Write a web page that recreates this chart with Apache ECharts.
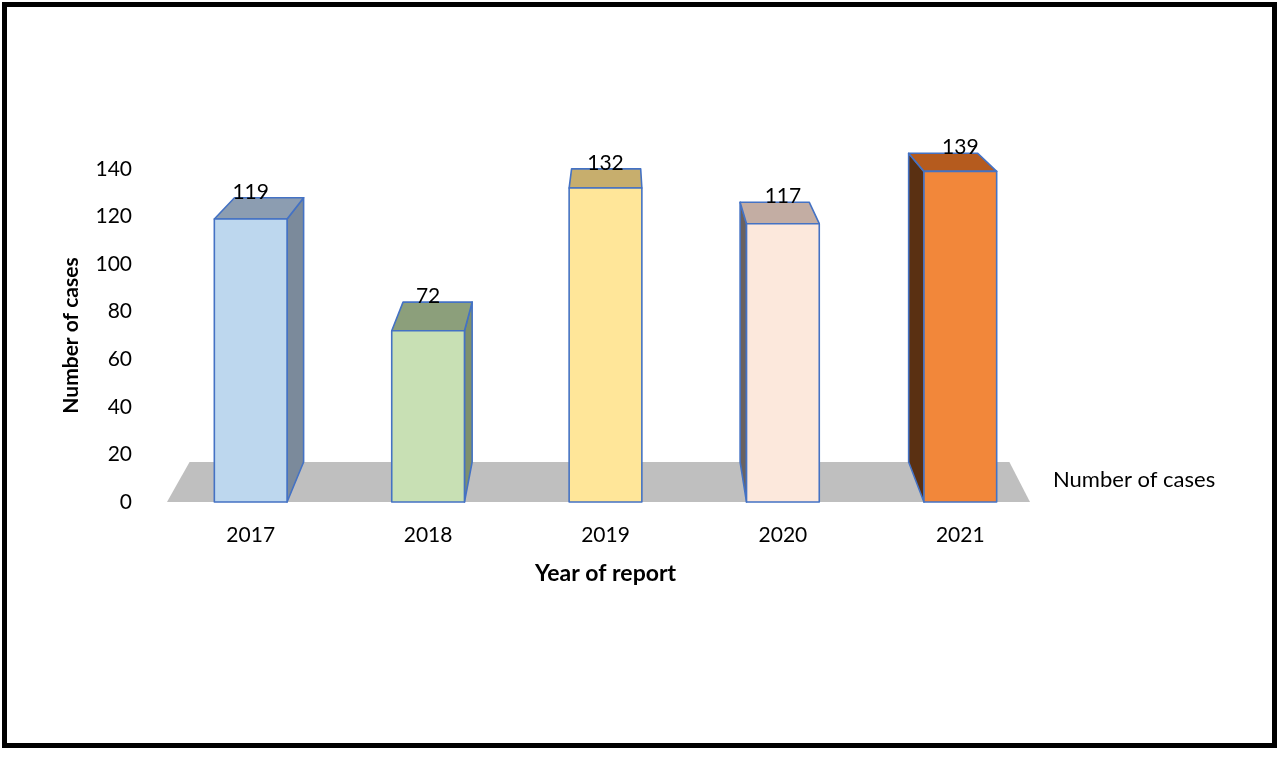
<!DOCTYPE html>
<html>
<head>
<meta charset="utf-8">
<script src="https://cdn.jsdelivr.net/npm/echarts@6/dist/echarts.min.js"></script>
<style>
  html, body { margin: 0; padding: 0; background: #fff; }
  #chart { width: 1280px; height: 758px; }
</style>
</head>
<body>
<div id="chart"></div>
<script>
// data
const years = ['2017', '2018', '2019', '2020', '2021'];
const cases = [119, 72, 132, 117, 139];
const yTicks = [0, 20, 40, 60, 80, 100, 120, 140];

// face colours per bar
const frontColors = ['#BDD7EE', '#C8E0B4', '#FFE699', '#FCE8DC', '#F2873A'];
const topColors = ['#8C9DB1', '#8C9F7B', '#C7AE6D', '#C3ADA3', '#B55B1E'];
const sideColors = ['#7B8A9B', '#7E906D', '#B39C60', '#6A6260', '#5A3012'];

const font = 'Lato, "Open Sans", sans-serif';
const edge = '#4472C4';

// fake perspective: back face = front face pulled toward a vanishing point
const VX = 618, KX = 0.95, VY = -101, KY = 0.9337;
const back = (p) => [VX + KX * (p[0] - VX), VY + KY * (p[1] - VY)];

const poly = (points, fill, stroke) => ({
  type: 'polygon',
  shape: { points },
  style: { fill, stroke, lineWidth: stroke ? 1.6 : 0, lineJoin: 'round' }
});

function renderBar(params, api) {
  const i = api.value(0);
  const val = api.value(1);
  const top = api.coord([i, val]);
  const base = api.coord([i, 0]);
  const w = api.size([1, 0])[0] * 0.41;
  const L = top[0] - w / 2, R = top[0] + w / 2, T = top[1], B = base[1];

  const fTL = [L, T], fTR = [R, T], fBL = [L, B], fBR = [R, B];
  const bTL = back(fTL), bTR = back(fTR), bBL = back(fBL), bBR = back(fBR);

  const children = [];
  if (L > VX) {
    children.push(poly([fTL, bTL, bBL, fBL], sideColors[i], edge));
  } else if (R < VX) {
    children.push(poly([fTR, bTR, bBR, fBR], sideColors[i], edge));
  }
  children.push(poly([fTL, fTR, bTR, bTL], topColors[i], edge));
  children.push(poly([fTL, fTR, fBR, fBL], frontColors[i], edge));
  children.push({
    type: 'text',
    style: {
      text: String(val),
      x: top[0],
      y: bTL[1] - 6,
      align: 'center',
      verticalAlign: 'middle',
      fontSize: 21,
      fontFamily: font,
      fill: '#000'
    }
  });
  return { type: 'group', children };
}

function renderFloor(params, api) {
  const cs = params.coordSys;
  const y0 = api.coord([0, 0])[1];
  const fL = [cs.x + 5, y0], fR = [cs.x + cs.width - 19, y0];
  return poly([fL, fR, back(fR), back(fL)], '#BFBFBF', null);
}

const chart = echarts.init(document.getElementById('chart'));

chart.setOption({
  animation: false,
  backgroundColor: '#fff',
  grid: { left: 162, right: 231, top: 169, bottom: 256, containLabel: false },
  xAxis: {
    type: 'category',
    data: years,
    name: 'Year of report',
    nameLocation: 'middle',
    nameGap: 60,
    nameTextStyle: { fontSize: 23, fontWeight: 'bold', fontFamily: font, color: '#000' },
    axisLine: { show: false },
    axisTick: { show: false },
    axisLabel: { fontSize: 21, fontFamily: font, color: '#000', margin: 23 }
  },
  yAxis: {
    type: 'value',
    min: yTicks[0],
    max: yTicks[yTicks.length - 1],
    interval: 20,
    name: 'Number of cases',
    nameLocation: 'middle',
    nameGap: 80,
    nameRotate: 90,
    nameTextStyle: { fontSize: 21, fontWeight: 'bold', fontFamily: font, color: '#000' },
    axisLine: { show: false },
    axisTick: { show: false },
    splitLine: { show: false },
    axisLabel: { fontSize: 21, fontFamily: font, color: '#000', margin: 30 }
  },
  graphic: [
    {
      type: 'rect',
      shape: { x: 4.5, y: 4.5, width: 1270, height: 741 },
      style: { fill: 'none', stroke: '#000', lineWidth: 5 },
      z: 10
    },
    {
      type: 'text',
      left: 1053,
      top: 469,
      style: { text: 'Number of cases', fontSize: 22, fontFamily: font, fill: '#000' }
    }
  ],
  series: [
    {
      name: 'floor',
      type: 'custom',
      renderItem: renderFloor,
      data: [[0, 0]],
      z: 1,
      silent: true
    },
    {
      name: 'Number of cases',
      type: 'custom',
      renderItem: renderBar,
      data: years.map((y, i) => [i, cases[i]]),
      encode: { x: 0, y: 1 },
      z: 2
    }
  ]
});
</script>
</body>
</html>
